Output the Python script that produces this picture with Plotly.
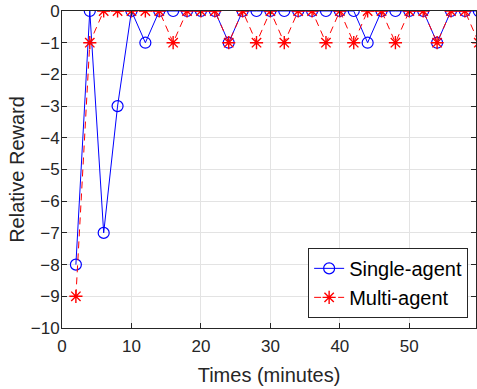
import plotly.graph_objects as go

times = [2, 4, 6, 8, 10, 12, 14, 16, 18, 20, 22, 24, 26, 28, 30, 32, 34, 36, 38, 40,
         42, 44, 46, 48, 50, 52, 54, 56, 58, 60]
single_agent = [-8, 0, -7, -3, 0, -1, 0, 0, 0, 0, 0, -1, 0, 0, 0, 0, 0, 0, 0, 0,
                0, -1, 0, 0, 0, 0, -1, 0, 0, 0]
multi_agent = [-9, -1, 0, 0, 0, 0, 0, -1, 0, 0, 0, -1, 0, -1, 0, -1, 0, 0, -1, 0,
               -1, 0, 0, -1, 0, 0, -1, 0, 0, -1]
x_ticks = [0, 10, 20, 30, 40, 50]
y_ticks = list(range(-10, 1))

FONT = "Liberation Sans, Arial, sans-serif"

fig = go.Figure()
fig.add_trace(go.Scatter(
    x=times, y=single_agent, name="Single-agent", mode="lines+markers",
    line=dict(color="#0000ff", width=1),
    marker=dict(symbol="circle-open", size=11, color="#0000ff", line=dict(width=1.2, color="#0000ff")),
))
fig.add_trace(go.Scatter(
    x=times, y=multi_agent, name="Multi-agent", mode="lines+markers",
    line=dict(color="#ff0000", width=1, dash="7px,5px"),
    marker=dict(symbol="asterisk-open", size=11, color="#ff0000", line=dict(width=1.4, color="#ff0000")),
))

axis_common = dict(
    showline=True, linecolor="#262626", linewidth=1, mirror="ticks",
    ticks="inside", ticklen=5, tickcolor="#262626", tickwidth=1,
    showgrid=True, gridcolor="#e3e3e3", gridwidth=1, zeroline=False,
    automargin=False,
    tickfont=dict(family=FONT, size=17, color="#262626"),
    title_font=dict(family=FONT, size=20, color="#262626"),
)

fig.update_layout(
    width=477, height=389,
    margin=dict(l=62, r=1, t=11, b=61),
    paper_bgcolor="white", plot_bgcolor="white",
    showlegend=True,
    legend=dict(
        x=0.981, y=0.032, xanchor="right", yanchor="bottom",
        bordercolor="#262626", borderwidth=1, bgcolor="white",
        font=dict(family=FONT, size=20, color="#000000"),
        itemwidth=30, tracegroupgap=0,
    ),
)
fig.update_xaxes(range=[0, 59.6], tickvals=x_ticks, ticklabelstandoff=3,
                 title=dict(text="Times (minutes)", standoff=12), **axis_common)
fig.update_yaxes(range=[-10, 0], tickvals=y_ticks, ticklabelstandoff=-2,
                 title=dict(text="Relative Reward", standoff=0), **axis_common)

# remove the browser's default 8px body margin so the figure fills the window
fig.write_html("out.html", config={"displayModeBar": False},
               post_script="document.body.style.margin='0';")
